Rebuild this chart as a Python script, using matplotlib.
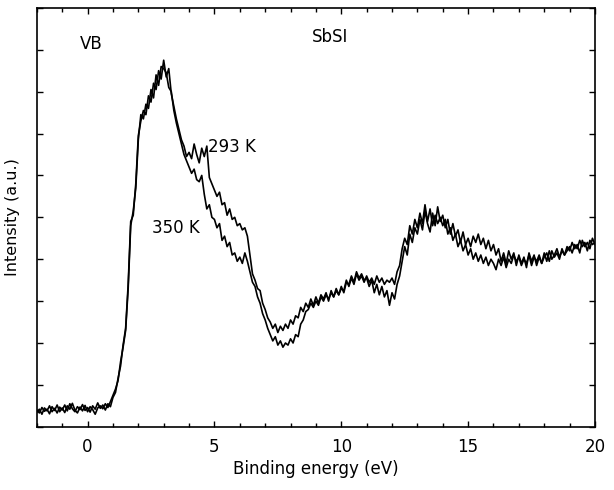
import numpy as np
import matplotlib.pyplot as plt
from matplotlib.ticker import MultipleLocator, NullFormatter

# binding energy grid, 0.1 eV steps from -2 to 20
energy = np.round(np.arange(-2.0, 20.05, 0.1), 2)

# 293 K spectrum (arb. units)
t293 = [
    0.35, 0.42, 0.30, 0.45, 0.38, 0.50, 0.36, 0.44, 0.33, 0.47,
    0.40, 0.52, 0.38, 0.55, 0.43, 0.36, 0.48, 0.41, 0.53, 0.39,
    0.46, 0.35, 0.50, 0.42, 0.57, 0.44, 0.52, 0.40, 0.55, 0.48,
    0.70, 0.82, 1.15, 1.45, 1.95, 2.35, 3.40, 4.90, 5.05, 5.80,
    6.95, 7.30, 7.55, 7.45, 7.90, 7.75, 8.20, 8.05, 8.50, 8.30,
    8.75, 8.35, 8.55, 7.95, 7.65, 7.35, 7.10, 6.85, 6.70, 6.45,
    6.55, 6.40, 6.75, 6.50, 6.30, 6.65, 6.45, 6.70, 5.95, 5.80,
    5.65, 5.50, 5.60, 5.30, 5.35, 5.05, 5.20, 4.95, 5.00, 4.80,
    4.85, 4.70, 4.75, 4.55, 4.10, 3.65, 3.50, 3.30, 3.25, 2.95,
    2.80, 2.60, 2.50, 2.35, 2.45, 2.25, 2.40, 2.30, 2.45, 2.35,
    2.55, 2.45, 2.65, 2.60, 2.85, 2.75, 2.95, 2.85, 3.05, 2.90,
    3.10, 2.95, 3.15, 3.05, 3.20, 3.00, 3.25, 3.10, 3.30, 3.15,
    3.35, 3.20, 3.45, 3.40, 3.60, 3.45, 3.70, 3.55, 3.65, 3.50,
    3.55, 3.35, 3.50, 3.20, 3.40, 3.15, 3.35, 3.10, 3.25, 2.90,
    3.20, 3.05, 3.40, 3.60, 3.95, 4.30, 4.10, 4.60, 4.40, 4.75,
    4.60, 4.95, 4.70, 5.15, 4.85, 4.65, 5.10, 4.80, 5.25, 4.90,
    5.05, 4.75, 4.95, 4.60, 4.85, 4.55, 4.70, 4.40, 4.65, 4.35,
    4.50, 4.30, 4.55, 4.40, 4.60, 4.35, 4.50, 4.25, 4.45, 4.20,
    4.35, 4.10, 4.25, 3.95, 4.15, 3.90, 4.20, 4.00, 4.15, 3.85,
    4.10, 3.90, 4.05, 3.80, 4.15, 3.95, 4.10, 3.85, 4.05, 3.90,
    4.15, 3.95, 4.20, 4.00, 4.10, 4.25, 4.05, 4.20, 4.10, 4.30,
    4.20, 4.40, 4.25, 4.35, 4.15, 4.45, 4.30, 4.40, 4.25, 4.50,
    4.35,
]

# 350 K spectrum
t350 = [
    0.40, 0.33, 0.46, 0.37, 0.42, 0.31, 0.48, 0.39, 0.52, 0.36,
    0.45, 0.34, 0.50, 0.42, 0.56, 0.40, 0.33, 0.47, 0.38, 0.51,
    0.36, 0.48, 0.41, 0.30, 0.45, 0.50, 0.43, 0.55, 0.46, 0.60,
    0.75, 0.90, 1.10, 1.55, 1.90, 2.30, 3.30, 4.80, 5.15, 5.70,
    6.85, 7.45, 7.35, 7.70, 7.60, 8.05, 7.85, 8.40, 8.15, 8.60,
    8.55, 8.45, 8.10, 8.00, 7.55, 7.25, 7.00, 6.75, 6.50, 6.35,
    6.20, 6.05, 6.15, 5.90, 5.85, 6.00, 5.55, 5.20, 5.30, 5.00,
    4.95, 4.75, 4.85, 4.45, 4.55, 4.30, 4.40, 4.10, 4.15, 3.95,
    4.05, 3.90, 4.15, 3.95, 3.70, 3.45, 3.35, 3.10, 2.95, 2.70,
    2.55, 2.35, 2.20, 2.05, 2.15, 1.95, 2.05, 1.90, 2.00, 1.95,
    2.10, 2.00, 2.20, 2.15, 2.45, 2.55, 2.75, 2.80, 2.95, 2.85,
    3.00, 2.90, 3.10, 3.00, 3.15, 3.05, 3.20, 3.10, 3.25, 3.15,
    3.30, 3.25, 3.50, 3.35, 3.55, 3.40, 3.65, 3.50, 3.60, 3.45,
    3.60, 3.45, 3.55, 3.40, 3.60, 3.45, 3.55, 3.40, 3.50, 3.45,
    3.55, 3.40, 3.70, 3.85, 4.25, 4.50, 4.35, 4.80, 4.60, 4.95,
    4.75, 5.10, 4.85, 5.30, 4.90, 5.20, 4.80, 5.05, 4.85, 5.00,
    4.80, 4.95, 4.60, 4.75, 4.45, 4.60, 4.30, 4.45, 4.20, 4.35,
    4.10, 4.25, 4.00, 4.15, 3.95, 4.10, 3.90, 4.05, 3.85, 4.00,
    3.90, 3.75, 4.00, 3.85, 4.05, 3.80, 4.00, 3.90, 4.10, 3.95,
    4.05, 3.85, 4.00, 3.90, 4.10, 3.85, 4.05, 3.95, 4.10, 3.90,
    4.05, 4.15, 3.95, 4.20, 4.05, 4.15, 4.00, 4.25, 4.10, 4.20,
    4.30, 4.15, 4.35, 4.25, 4.45, 4.30, 4.40, 4.20, 4.45, 4.35,
    4.40,
]

fig = plt.figure(figsize=(6.14, 4.90), dpi=100)
ax = fig.add_axes([0.060, 0.129, 0.909, 0.855])

ax.plot(energy, t293, color="black", linewidth=1.2)
ax.plot(energy, t350, color="black", linewidth=1.2)

ax.set_xlim(-2, 20)
ax.set_ylim(0, 10)
ax.xaxis.set_major_locator(MultipleLocator(5))
ax.xaxis.set_minor_locator(MultipleLocator(1))
ax.yaxis.set_major_locator(MultipleLocator(1))
ax.yaxis.set_major_formatter(NullFormatter())
ax.tick_params(which="both", direction="in", top=True, right=True, width=1)
ax.tick_params(which="major", length=4, labelsize=12, pad=8)
ax.tick_params(which="minor", length=3)
for sp in ax.spines.values():
    sp.set_linewidth(1.2)

ax.set_xlabel("Binding energy (eV)", fontsize=12, labelpad=3)
ax.set_ylabel("Intensity (a.u.)", fontsize=11.5, labelpad=4)

ax.text(-0.3, 9.14, "VB", fontsize=12, va="center")
ax.text(8.85, 9.3, "SbSI", fontsize=12, va="center")
ax.text(4.75, 6.69, "293 K", fontsize=12, va="center")
ax.text(2.55, 4.74, "350 K", fontsize=12, va="center")

fig.savefig("out.png", dpi=100)
